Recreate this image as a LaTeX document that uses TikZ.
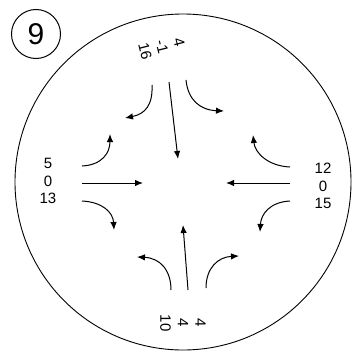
\documentclass[tikz,border=0pt]{standalone}
\usepackage{fontspec}
\setmainfont{Liberation Sans}
\usetikzlibrary{arrows.meta}

\begin{document}
\begin{tikzpicture}[x=1pt,y=-1pt,line width=1pt,
    flow/.style={-{Latex[length=8pt,width=6.5pt]}},
    count/.style={align=center,font=\fontsize{15}{17.5}\selectfont,inner sep=0pt}]
        \useasboundingbox[fill=white] (0,0) rectangle (355,356);
        \draw[line width=0.9pt] (183,182) circle[radius=168];
        \node[draw,circle,minimum size=49pt,inner sep=0pt,font=\fontsize{30}{30}\selectfont] (num) at (36,34){9};
        % counts per approach
        \node[count] (west) at (48,181){5\\0\\13};
        \node[count] (east) at (323,186){12\\0\\15};
        \node[count,rotate=-76] (north) at (162,47){4\\-1\\16};
        \node[count,rotate=-90] (south) at (183,323){4\\4\\10};
        % west
        \draw[flow] (82,183)--(143,183);
        \draw[flow] (82,166) .. controls (102,165) and (110,153) .. (110,134);
        \draw[flow] (82,201) .. controls (102,202) and (113,212) .. (114,230);
        % east
        \draw[flow] (290,183)--(226,183);
        \draw[flow] (290,167) .. controls (268,166) and (255,153) .. (253,135);
        \draw[flow] (290,201) .. controls (270,202) and (261,214) .. (260,232);
        % north
        \draw[flow] (169,82)--(178,159);
        \draw[flow] (152,85) .. controls (153,105) and (145,114) .. (125,118);
        \draw[flow] (186,80) .. controls (188,100) and (200,110) .. (224,111);
        % south
        \draw[flow] (188,290)--(183,225);
        \draw[flow] (171,290) .. controls (171,270) and (160,258) .. (137,257);
        \draw[flow] (206,288) .. controls (206,268) and (218,257) .. (239,256);
      \end{tikzpicture}
\end{document}
